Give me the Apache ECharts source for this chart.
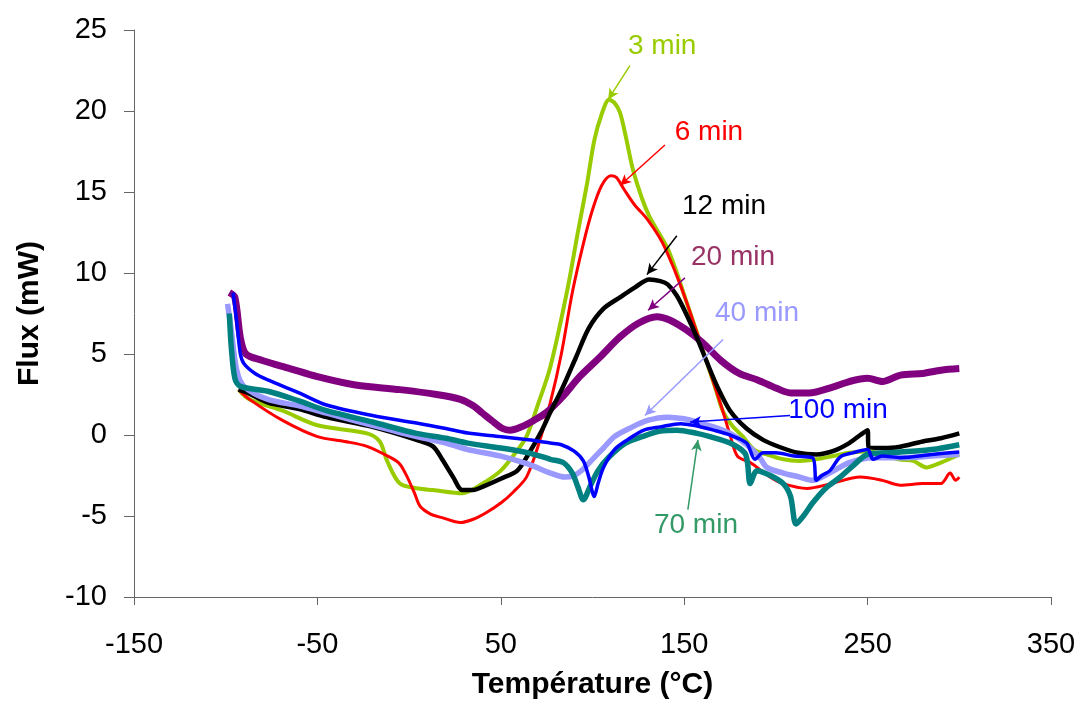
<!DOCTYPE html>
<html>
<head>
<meta charset="utf-8">
<script src="https://cdn.jsdelivr.net/npm/echarts@6/dist/echarts.min.js"></script>
<style>
html,body{margin:0;padding:0;background:#fff;}
#chart{width:1083px;height:715px;}
</style>
</head>
<body>
<div id="chart"></div>
<script>
// ---- Data (Température °C, Flux mW) ----
const xTicks = [-150, -50, 50, 150, 250, 350];
const yTicks = [-10, -5, 0, 5, 10, 15, 20, 25];

const T3 = [-93,-87,-69,-50,-23,-16,-12,-5,5,13,29,40,50,58,64,70,77,86,92,97,101,105,109,112,115,118,122,127,131,136,141,146,151,157,162,167,171,176,182,188,195,204,213,222,231,240,250,258,267,275,282,290,300];
const F3 = [2.8,2.2,1.5,0.6,0.1,-0.4,-1.6,-3.0,-3.3,-3.4,-3.6,-3.0,-2.2,-1.1,-0.1,1.8,4.2,8.8,12.5,15.5,18.2,19.8,20.7,20.5,19.9,18.5,16.4,14.6,13.5,12.5,11.5,10.0,8.3,6.3,4.6,2.9,1.5,0.6,-0.1,-0.9,-1.2,-1.5,-1.6,-1.5,-1.3,-1.1,-1.0,-1.2,-1.5,-1.6,-2.0,-1.7,-1.2];

const T6 = [-93,-87,-69,-50,-35,-23,-10,-5,-1,3,6,12,18,28,35,42,50,57,64,70,77,83,89,95,100,105,110,113,117,123,130,138,145,151,157,162,167,171,175,179,186,197,204,217,230,246,258,268,280,290,295,298,300];
const F6 = [2.8,2.2,0.9,-0.1,-0.4,-0.7,-1.4,-1.8,-2.6,-3.6,-4.4,-4.9,-5.1,-5.4,-5.2,-4.8,-4.2,-3.5,-2.6,-0.8,2.0,5.0,8.8,11.8,13.9,15.4,16.0,15.9,15.2,14.2,13.3,11.9,10.1,8.3,6.3,4.6,2.9,1.5,0.0,-1.3,-1.7,-2.6,-3.0,-3.3,-3.0,-2.6,-2.8,-3.1,-3.0,-3.0,-2.35,-2.8,-2.6];

const T12 = [-93,-88,-77,-60,-45,-20,4,13,18,24,29,35,40,50,59,66,72,77,84,91,98,106,115,123,131,137,141,146,151,157,162,168,175,184,193,202,212,222,231,240,246,250,250.5,258,267,280,290,300];
const F12 = [2.8,2.6,2.0,1.6,1.1,0.5,-0.3,-0.7,-1.5,-2.6,-3.4,-3.4,-3.2,-2.7,-2.2,-1.0,0.2,1.4,3.0,4.8,6.6,7.8,8.5,9.1,9.6,9.5,9.3,8.6,7.5,6.0,4.6,3.0,1.5,0.4,-0.3,-0.74,-1.1,-1.2,-1.0,-0.5,0.0,0.3,-0.74,-0.8,-0.74,-0.4,-0.2,0.1];

const T20 = [-98,-95,-92,-89,-80,-65,-50,-30,-5,15,28,35,40,45,51,55,61,68,75,84,93,104,115,125,135,142,151,160,170,180,190,200,208,218,231,240,250,258,268,280,290,300];
const F20 = [8.8,8.5,6.0,5.0,4.6,4.1,3.6,3.1,2.8,2.5,2.2,1.8,1.35,0.9,0.4,0.3,0.5,0.9,1.4,2.4,3.6,4.8,6.05,6.9,7.3,7.1,6.5,5.7,4.6,3.8,3.4,2.9,2.6,2.6,2.96,3.3,3.5,3.3,3.7,3.8,4.0,4.1];

const T40 = [-99,-97,-94,-90,-77,-60,-45,-20,4,20,32,50,65,77,85,90,95,100,106,112,120,130,141,150,157,166,175,184,191,195,204,213,220,230,240,253,270,285,300];
const F40 = [8.1,6.5,4.0,3.0,2.2,1.8,1.35,0.6,-0.1,-0.5,-0.9,-1.3,-1.8,-2.35,-2.6,-2.5,-2.1,-1.5,-0.8,-0.1,0.4,0.9,1.1,1.0,0.8,0.5,0.1,-0.6,-1.36,-2.0,-2.35,-2.6,-2.8,-2.3,-1.7,-1.4,-1.4,-1.3,-1.2];

const T70 = [-98,-97,-95,-92,-77,-60,-45,-20,4,20,32,50,65,77,84,89,92,95,98.6,103,109,118,127,137,146,157,164,175,183,184.5,186,189.7,197,204,208,211,215,220,227,235,242,250,260,268,285,300];
const F70 = [7.5,5.5,3.5,3.0,2.7,2.1,1.5,0.8,0.1,-0.2,-0.5,-0.8,-1.1,-1.5,-1.7,-2.35,-3.2,-4.0,-3.2,-2.2,-1.36,-0.5,-0.1,0.25,0.3,0.1,-0.1,-0.5,-1.1,-1.7,-3.0,-2.2,-2.5,-3.0,-3.8,-5.5,-5.0,-4.2,-3.3,-2.6,-1.9,-1.2,-1.1,-1.05,-0.9,-0.6];

const T100 = [-96,-94,-92,-90,-84,-77,-60,-45,-20,4,20,32,50,65,77,83,90,95,98,101,103,106,112,119,128,137,148,155,166,175,184,188.6,193,200,210,220,222,225,229.5,235,242,250,253,258,268,285,300];
const F100 = [8.8,7.0,5.0,4.4,3.8,3.4,2.6,1.85,1.2,0.74,0.4,0.12,-0.1,-0.3,-0.5,-0.6,-1.0,-1.6,-2.6,-3.8,-3.0,-2.0,-0.9,-0.3,0.3,0.5,0.7,0.6,0.3,0.0,-0.5,-1.5,-1.1,-1.1,-1.3,-1.4,-2.8,-2.5,-2.2,-1.36,-1.1,-0.9,-1.5,-1.3,-1.4,-1.2,-1.05];

// Annotation labels: text position, arrow from -> to (data coordinates)
const labels3   = {text:'3 min',   at:[138,24.0],  from:[120.4,22.8], to:[108.5,20.7]};
const labels6   = {text:'6 min',   at:[163.5,18.7],from:[139.5,17.9], to:[115,15.4]};
const labels12  = {text:'12 min',  at:[171.7,14.1],from:[146,12.3],   to:[129.7,9.9]};
const labels20  = {text:'20 min',  at:[176.6,11.0],from:[150.4,9.7],  to:[130.3,7.7]};
const labels40  = {text:'40 min',  at:[189.7,7.5], from:[171.2,5.9],  to:[128.6,1.2]};
const labels70  = {text:'70 min',  at:[156.4,-5.6],from:[152,-4.6],   to:[157.5,-0.3]};
const labels100 = {text:'100 min', at:[233.9,1.5], from:[207.7,1.2],  to:[153.2,0.8]};

function pairs(xs, ys){ return xs.map((x,i)=>[x, ys[i]]); }

const font = 'Liberation Sans, Arial, sans-serif';

function curve(name, xs, ys, color, width, lab, labColor, arrowColor){
  return {
    name: name, type: 'line', data: pairs(xs, ys),
    showSymbol: false, symbol: 'none', smooth: 0.3,
    lineStyle: {color: color, width: width},
    itemStyle: {color: color},
    animation: false,
    markLine: {
      silent: true, animation: false,
      symbol: ['none','arrow'], symbolSize: [8, 11],
      lineStyle: {color: arrowColor, width: 1.5, type: 'solid'},
      label: {show: false},
      data: [[{coord: lab.from}, {coord: lab.to}]]
    },
    markPoint: {
      silent: true, animation: false,
      symbol: 'circle', symbolSize: 0,
      label: {show: true, position: 'inside', formatter: lab.text, color: labColor,
              fontSize: 28, fontFamily: font},
      data: [{coord: lab.at}]
    }
  };
}

const chart = echarts.init(document.getElementById('chart'), null, {renderer: 'canvas'});
chart.setOption({
  backgroundColor: '#fff',
  animation: false,
  grid: {left: 134, right: 32, top: 30, bottom: 118, containLabel: false},
  xAxis: {
    type: 'value', min: xTicks[0], max: xTicks[xTicks.length-1], interval: 100,
    name: 'Température (°C)', nameLocation: 'middle', nameGap: 73,
    nameTextStyle: {fontSize: 30, fontWeight: 'bold', color: '#000', fontFamily: font},
    axisLine: {show: true, onZero: false, lineStyle: {color: '#666', width: 1}},
    axisTick: {show: true, inside: false, length: 8, lineStyle: {color: '#666'}},
    axisLabel: {fontSize: 29, color: '#000', margin: 33, fontFamily: font},
    splitLine: {show: false}
  },
  yAxis: {
    type: 'value', min: yTicks[0], max: yTicks[yTicks.length-1], interval: 5,
    name: 'Flux (mW)', nameLocation: 'middle', nameGap: 89, nameRotate: 90,
    nameTextStyle: {fontSize: 30, fontWeight: 'bold', color: '#000', fontFamily: font},
    axisLine: {show: true, onZero: false, lineStyle: {color: '#666', width: 1}},
    axisTick: {show: true, inside: false, length: 10, lineStyle: {color: '#666'}},
    axisLabel: {fontSize: 29, color: '#000', margin: 27, fontFamily: font},
    splitLine: {show: false}
  },
  series: [
    curve('3 min',  T3,  F3,  '#99CC00', 4,   labels3,  '#99CC00', '#99CC00'),
    curve('6 min',  T6,  F6,  '#FF0000', 3,   labels6,  '#FF0000', '#FF0000'),
    curve('20 min', T20, F20, '#800080', 7,   labels20, '#993366', '#800080'),
    curve('12 min', T12, F12, '#000000', 4.5, labels12, '#000000', '#000000'),
    curve('40 min', T40, F40, '#9999FF', 5.5, labels40, '#9999FF', '#9999FF'),
    curve('70 min', T70, F70, '#008080', 5.5, labels70, '#339966', '#339966'),
    curve('100 min',T100,F100,'#0000FF', 3.5, labels100,'#0000FF', '#0000FF')
  ]
});
</script>
</body>
</html>
